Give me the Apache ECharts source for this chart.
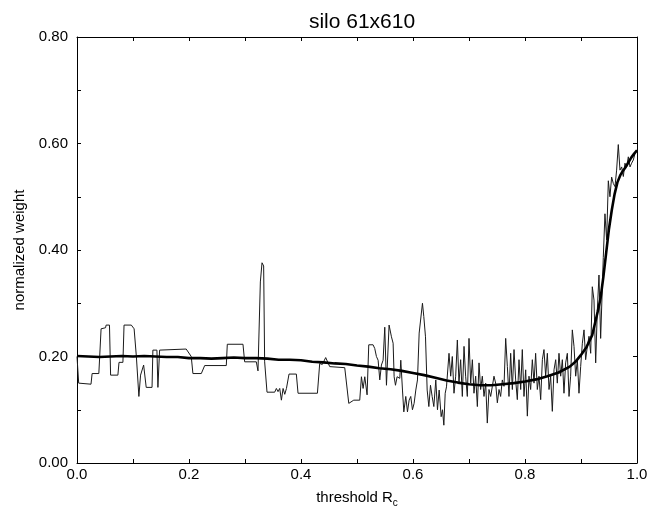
<!DOCTYPE html>
<html>
<head>
<meta charset="utf-8">
<script src="https://cdn.jsdelivr.net/npm/echarts@6/dist/echarts.min.js"></script>
<style>html,body{margin:0;padding:0;background:#fff}#c{width:656px;height:506px}</style>
</head>
<body>
<div id="c"></div>
<script>
var titleText = 'silo 61x610';
var xTickLabels = ['0.0','0.2','0.4','0.6','0.8','1.0'];
var yTickLabels = ['0.00','0.20','0.40','0.60','0.80'];

// noisy (thin) curve
var thinX = [0.000,0.003,0.025,0.027,0.039,0.043,0.051,0.052,0.058,0.060,0.073,0.075,0.082,0.084,0.097,0.102,0.106,0.1105,0.1135,0.117,0.119,0.1236,0.134,0.1355,0.1427,0.1445,0.1475,0.195,0.198,0.204,0.207,0.222,0.228,0.2666,0.2684,0.2964,0.2994,0.3202,0.3232,0.3274,0.3304,0.3333,0.3351,0.3393,0.353,0.356,0.359,0.362,0.365,0.368,0.371,0.374,0.3786,0.3917,0.3947,0.4293,0.4334,0.438,0.4441,0.4513,0.4781,0.4853,0.4942,0.5049,0.5079,0.5109,0.5139,0.518,0.521,0.5287,0.5317,0.5347,0.5377,0.5407,0.5436,0.5466,0.5496,0.5526,0.5573,0.5615,0.5645,0.5663,0.5687,0.5716,0.5764,0.5782,0.5812,0.5836,0.5871,0.5901,0.5931,0.596,0.599,0.602,0.605,0.608,0.611,0.6169,0.6193,0.6223,0.6253,0.6283,0.6312,0.6342,0.6372,0.6407,0.6437,0.6467,0.6503,0.6527,0.6551,0.6575,0.6598,0.6643,0.6673,0.6702,0.6732,0.6762,0.6792,0.6821,0.6851,0.6881,0.6911,0.694,0.697,0.700,0.703,0.706,0.7089,0.7119,0.7149,0.7179,0.7208,0.7238,0.7268,0.7298,0.7327,0.7357,0.7387,0.7417,0.7446,0.7476,0.7506,0.7536,0.7565,0.7595,0.7625,0.7655,0.7685,0.7714,0.7744,0.7774,0.7804,0.7833,0.7863,0.7893,0.7923,0.7952,0.7982,0.8012,0.8042,0.8071,0.8101,0.8131,0.8161,0.819,0.822,0.825,0.828,0.831,0.8339,0.8369,0.8399,0.8429,0.8458,0.8488,0.8518,0.8548,0.8577,0.8607,0.8637,0.8667,0.8696,0.8726,0.8756,0.8786,0.8815,0.8845,0.8875,0.8905,0.8935,0.8964,0.8994,0.9024,0.9054,0.9083,0.9113,0.9143,0.9173,0.9202,0.9232,0.9262,0.9292,0.9321,0.9351,0.9381,0.9398,0.9428,0.9458,0.9488,0.9517,0.9547,0.9577,0.9607,0.9636,0.9666,0.9696,0.9726,0.9756,0.9785,0.9815,0.9845,0.9875,0.9904,0.9934,0.9964,0.9994];
var thinY = [0.200,0.150,0.148,0.168,0.168,0.252,0.254,0.259,0.259,0.165,0.165,0.189,0.189,0.259,0.259,0.252,0.200,0.125,0.165,0.168,0.184,0.142,0.142,0.212,0.212,0.142,0.212,0.214,0.217,0.200,0.168,0.168,0.183,0.183,0.223,0.223,0.190,0.190,0.173,0.340,0.376,0.370,0.190,0.133,0.133,0.140,0.134,0.140,0.118,0.140,0.129,0.140,0.167,0.167,0.131,0.131,0.187,0.185,0.198,0.181,0.179,0.112,0.118,0.118,0.162,0.140,0.162,0.128,0.222,0.222,0.215,0.200,0.193,0.156,0.184,0.193,0.255,0.146,0.259,0.237,0.225,0.162,0.146,0.162,0.159,0.193,0.137,0.096,0.125,0.096,0.118,0.125,0.100,0.112,0.137,0.156,0.244,0.300,0.275,0.237,0.137,0.106,0.146,0.125,0.106,0.156,0.100,0.137,0.087,0.100,0.071,0.131,0.143,0.206,0.163,0.200,0.131,0.163,0.231,0.150,0.194,0.125,0.219,0.163,0.125,0.234,0.150,0.194,0.131,0.163,0.106,0.188,0.138,0.163,0.125,0.150,0.075,0.138,0.125,0.144,0.163,0.150,0.113,0.138,0.125,0.156,0.144,0.234,0.181,0.125,0.206,0.138,0.213,0.156,0.119,0.194,0.138,0.213,0.125,0.175,0.088,0.163,0.138,0.194,0.150,0.206,0.138,0.163,0.119,0.194,0.213,0.163,0.206,0.138,0.163,0.097,0.175,0.194,0.150,0.206,0.163,0.194,0.131,0.188,0.206,0.125,0.163,0.250,0.219,0.163,0.194,0.131,0.181,0.225,0.250,0.194,0.219,0.238,0.206,0.331,0.306,0.188,0.288,0.353,0.234,0.331,0.386,0.468,0.419,0.530,0.500,0.537,0.525,0.519,0.550,0.598,0.550,0.556,0.538,0.563,0.556,0.575,0.556,0.563,0.569,0.581,0.588];

// smooth (thick) curve
var smoothX = [0,0.02,0.04,0.06,0.08,0.10,0.12,0.14,0.16,0.18,0.20,0.22,0.24,0.26,0.28,0.30,0.32,0.34,0.36,0.38,0.40,0.42,0.44,0.46,0.48,0.50,0.52,0.54,0.56,0.58,0.60,0.62,0.64,0.66,0.68,0.70,0.72,0.74,0.76,0.78,0.80,0.82,0.84,0.86,0.88,0.89,0.90,0.91,0.92,0.93,0.935,0.94,0.945,0.95,0.955,0.96,0.965,0.97,0.975,0.98,0.985,0.99,0.995,1.0];
var smoothY = [0.201,0.200,0.199,0.200,0.201,0.200,0.201,0.200,0.199,0.199,0.197,0.197,0.196,0.197,0.198,0.197,0.197,0.196,0.194,0.194,0.193,0.190,0.189,0.187,0.186,0.183,0.181,0.178,0.176,0.173,0.169,0.165,0.160,0.155,0.151,0.148,0.146,0.146,0.148,0.150,0.153,0.157,0.163,0.170,0.181,0.190,0.203,0.218,0.240,0.285,0.310,0.350,0.395,0.440,0.475,0.505,0.527,0.540,0.549,0.556,0.565,0.574,0.581,0.587];

function zip(a, b) { return a.map(function (v, i) { return [v, b[i]]; }); }

var FONT = '"Liberation Sans", Arial, Helvetica, sans-serif';
var chart = echarts.init(document.getElementById('c'), null, {renderer: 'canvas'});
function xFmt(v) { var k = Math.round(v * 10); return k % 2 === 0 ? xTickLabels[k / 2] : ''; }
function yFmt(v) { var k = Math.round(v * 10); return k % 2 === 0 ? yTickLabels[k / 2] : ''; }
var tick = {show: true, inside: true, length: 4, lineStyle: {color: '#000', width: 1}};
var line = {show: true, onZero: false, lineStyle: {color: '#000', width: 1}};

chart.setOption({
  animation: false,
  backgroundColor: '#fff',
  title: {
    text: titleText, left: 357, top: 7, textAlign: 'center',
    textStyle: {fontFamily: FONT, fontSize: 21, fontWeight: 'normal', color: '#000'}
  },
  grid: {left: 77, right: 19, top: 37, bottom: 43, containLabel: false, outerBoundsMode: 'none'},
  xAxis: [
    {type: 'value', min: 0, max: 1, interval: 0.1, position: 'bottom',
     axisLine: line, axisTick: tick, splitLine: {show: false},
     axisLabel: {formatter: xFmt, fontFamily: FONT, fontSize: 15, color: '#000', margin: 4},
     name: '{a|threshold R}{b|c}', nameLocation: 'middle', nameGap: 27,
     nameTextStyle: {fontFamily: FONT, color: '#000',
       rich: {a: {fontFamily: FONT, fontSize: 15, color: '#000', lineHeight: 15, verticalAlign: 'top'},
              b: {fontFamily: FONT, fontSize: 10, color: '#000', lineHeight: 10, padding: [8, 0, 0, 0], verticalAlign: 'top'}}}},
    {type: 'value', min: 0, max: 1, interval: 0.1, position: 'top',
     axisLine: line, axisTick: tick, axisLabel: {show: false}, splitLine: {show: false}}
  ],
  yAxis: [
    {type: 'value', min: 0, max: 0.8, interval: 0.1, position: 'left',
     axisLine: line, axisTick: tick, splitLine: {show: false},
     axisLabel: {formatter: yFmt, fontFamily: FONT, fontSize: 15, color: '#000', margin: 9},
     name: 'normalized weight', nameLocation: 'middle', nameGap: 50, nameRotate: 90,
     nameTextStyle: {fontFamily: FONT, fontSize: 15, color: '#000'}},
    {type: 'value', min: 0, max: 0.8, interval: 0.1, position: 'right',
     axisLine: line, axisTick: tick, axisLabel: {show: false}, splitLine: {show: false}}
  ],
  series: [
    {type: 'line', xAxisIndex: 0, yAxisIndex: 0, data: zip(thinX, thinY), showSymbol: false,
     lineStyle: {color: '#1a1a1a', width: 1}, z: 2},
    {type: 'line', xAxisIndex: 0, yAxisIndex: 0, data: zip(smoothX, smoothY), showSymbol: false,
     lineStyle: {color: '#000', width: 2.6}, z: 3}
  ]
});
</script>
</body>
</html>
